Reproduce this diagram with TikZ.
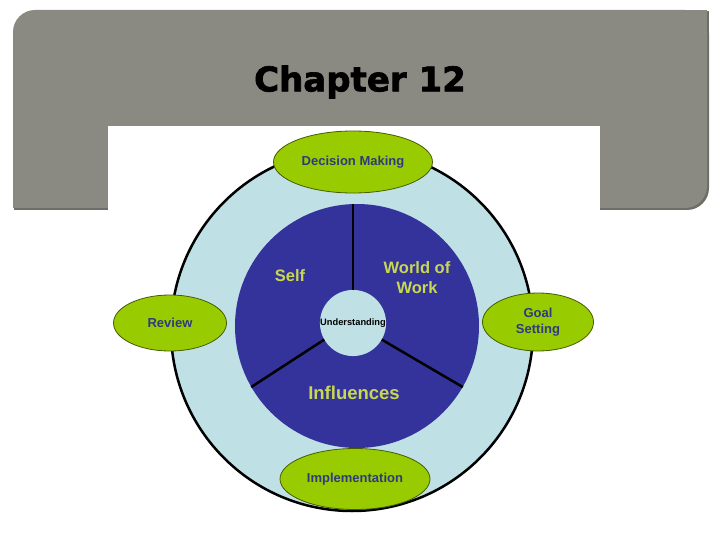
\documentclass[tikz,border=0pt]{standalone}
\usepackage{fontspec}
\setmainfont{Liberation Sans}
\newfontfamily\titlefont[BoldFeatures={FakeBold=2}]{DejaVu Sans}
\usepackage{tikz}
\usetikzlibrary{positioning,shapes.geometric,calc}
\definecolor{banner}{HTML}{8A8A82}
\definecolor{bannerdark}{HTML}{6E6E68}
\definecolor{ring}{HTML}{BFE1E6}
\definecolor{core}{HTML}{33339B}
\definecolor{leaf}{HTML}{99CC00}
\definecolor{ink}{HTML}{2E3A80}
\definecolor{lime}{HTML}{C8D850}

\begin{document}
\begin{tikzpicture}[
  x=1pt, y=-1pt,
  stage/.style={ellipse,draw=leaf!45!black,line width=0.8pt,fill=leaf,inner sep=0pt,
    font=\bfseries\fontsize{13}{16}\selectfont,text=ink,align=center},
  part/.style={font=\bfseries\fontsize{16.5}{20}\selectfont,text=lime,align=center},
  divider/.style={line width=2.5pt,black}
]
\useasboundingbox (0,0) rectangle (720,540);
% banner
\fill[bannerdark,rounded corners=22pt] (14,11) rectangle (709,210);
\fill[bannerdark] (680,11) rectangle (709,40);
\fill[bannerdark] (14,180) rectangle (44,210);
\fill[banner,rounded corners=22pt] (13,10) rectangle (707,208);
\fill[banner] (680,10) rectangle (707,40);
\fill[banner] (13,180) rectangle (40,208);
\node[font=\titlefont\bfseries\fontsize{34}{40}\selectfont] (title) at (360,82) {Chapter 12};
% picture area
\fill[white] (108,126) rectangle (600,540);
% wheel
\node[circle,draw,line width=2.5pt,fill=ring,minimum size=362pt,inner sep=0pt] (wheel) at (352,330) {};
\node[circle,fill=core,minimum size=244pt,inner sep=0pt] (core) at (357,326) {};
\node[circle,fill=ring,minimum size=66pt,inner sep=0pt,
  font=\bfseries\fontsize{9.3}{10}\selectfont] (hub) at (353,323) {Understanding};
\draw[divider] (hub.north) -- (hub.north |- core.north);
\draw[divider] (hub.210) -- (core.210);
\draw[divider] (hub.330) -- (core.330);
\node[part] (self) at (290,276) {Self};
\node[part] (world) at (417,278) {World of\\Work};
\node[part,font=\bfseries\fontsize{18.5}{22}\selectfont] (infl) at (354,393) {Influences};
% stages
\node[stage,minimum width=159pt,minimum height=62pt] (decide) at (353,162) {Decision Making};
\node[stage,minimum width=113pt,minimum height=56pt] (review) at (170,323) {Review};
\node[stage,minimum width=111pt,minimum height=58pt] (goal) at (538,322) {Goal\\Setting};
\node[stage,minimum width=150pt,minimum height=61pt] (impl) at (355,479) {Implementation};
\end{tikzpicture}
\end{document}
